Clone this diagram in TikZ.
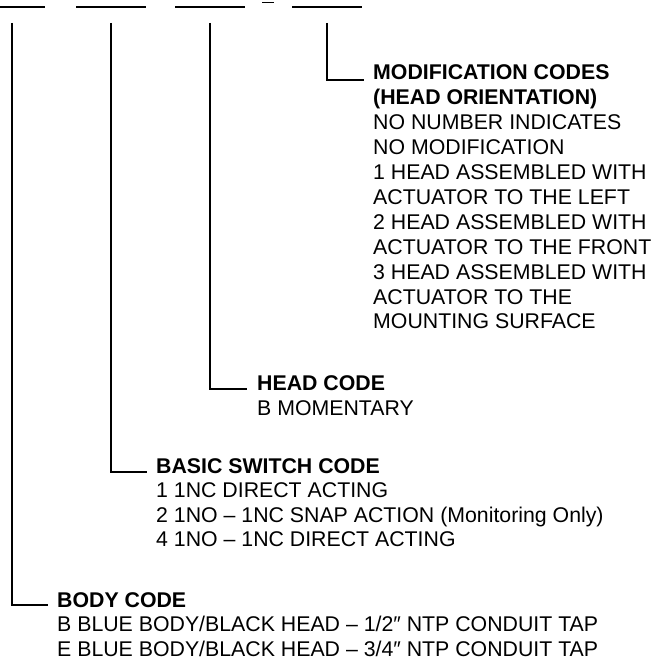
\documentclass[tikz,border=0pt]{standalone}
\usepackage{fontspec}
\setmainfont{Liberation Sans}
\begin{document}
\begin{tikzpicture}[x=1pt,y=-1pt,
  rule/.style={line width=1.5pt,black},
  lead/.style={line width=1.5pt,black},
  blk/.style={anchor=base west,inner sep=0pt,align=left}]
\useasboundingbox (0,0) rectangle (657,660);
% blanks of the code
\coordinate (b1l) at (0,7);   \coordinate (b1r) at (45,7);
\coordinate (b2l) at (76,7);  \coordinate (b2r) at (146,7);
\coordinate (b3l) at (175,7); \coordinate (b3r) at (245,7);
\coordinate (dl) at (262,2.5); \coordinate (dr) at (274,2.5);
\coordinate (b4l) at (292,7); \coordinate (b4r) at (362,7);
\draw[rule] (b1l) -- (b1r);
\draw[rule] (b2l) -- (b2r);
\draw[rule] (b3l) -- (b3r);
\draw[rule] (dl) -- (dr);
\draw[rule] (b4l) -- (b4r);
% leader tops
\coordinate (t1) at (12,23);
\coordinate (t2) at (111,23);
\coordinate (t3) at (210,23);
\coordinate (t4) at (327,23);
% text blocks
\node[blk] (mod) at (373,80) {\fontsize{21.3}{24.9}\selectfont\vtop{%
\hbox{\bfseries MODIFICATION CODES}%
\hbox{\bfseries (HEAD ORIENTATION)}%
\hbox{NO NUMBER INDICATES}%
\hbox{NO MODIFICATION}%
\hbox{1 HEAD ASSEMBLED WITH}%
\hbox{ACTUATOR TO THE LEFT}%
\hbox{2 HEAD ASSEMBLED WITH}%
\hbox{ACTUATOR TO THE FRONT}%
\hbox{3 HEAD ASSEMBLED WITH}%
\hbox{ACTUATOR TO THE}%
\hbox{MOUNTING SURFACE}}};
\node[blk] (head) at (257,390) {\fontsize{21.3}{25}\selectfont\vtop{%
\hbox{\bfseries HEAD CODE}%
\hbox{B MOMENTARY}}};
\node[blk] (basic) at (156,473) {\fontsize{21.3}{24.5}\selectfont\vtop{%
\hbox{\bfseries BASIC SWITCH CODE}%
\hbox{1 1NC DIRECT ACTING}%
\hbox{2 1NO – 1NC SNAP ACTION (Monitoring Only)}%
\hbox{4 1NO – 1NC DIRECT ACTING}}};
\node[blk] (body) at (57,607) {\fontsize{21.3}{24.5}\selectfont\vtop{%
\hbox{\bfseries BODY CODE}%
\hbox{B BLUE BODY/BLACK HEAD – 1/2″ NTP CONDUIT TAP}%
\hbox{E BLUE BODY/BLACK HEAD – 3/4″ NTP CONDUIT TAP}}};
% leaders
\draw[lead] (t1) |- ([xshift=-9pt,yshift=2pt]body.base west);
\draw[lead] (t2) |- ([xshift=-9pt,yshift=1pt]basic.base west);
\draw[lead] (t3) |- ([xshift=-10pt,yshift=1pt]head.base west);
\draw[lead] (t4) |- ([xshift=-9pt]mod.base west);
\end{tikzpicture}
\end{document}
